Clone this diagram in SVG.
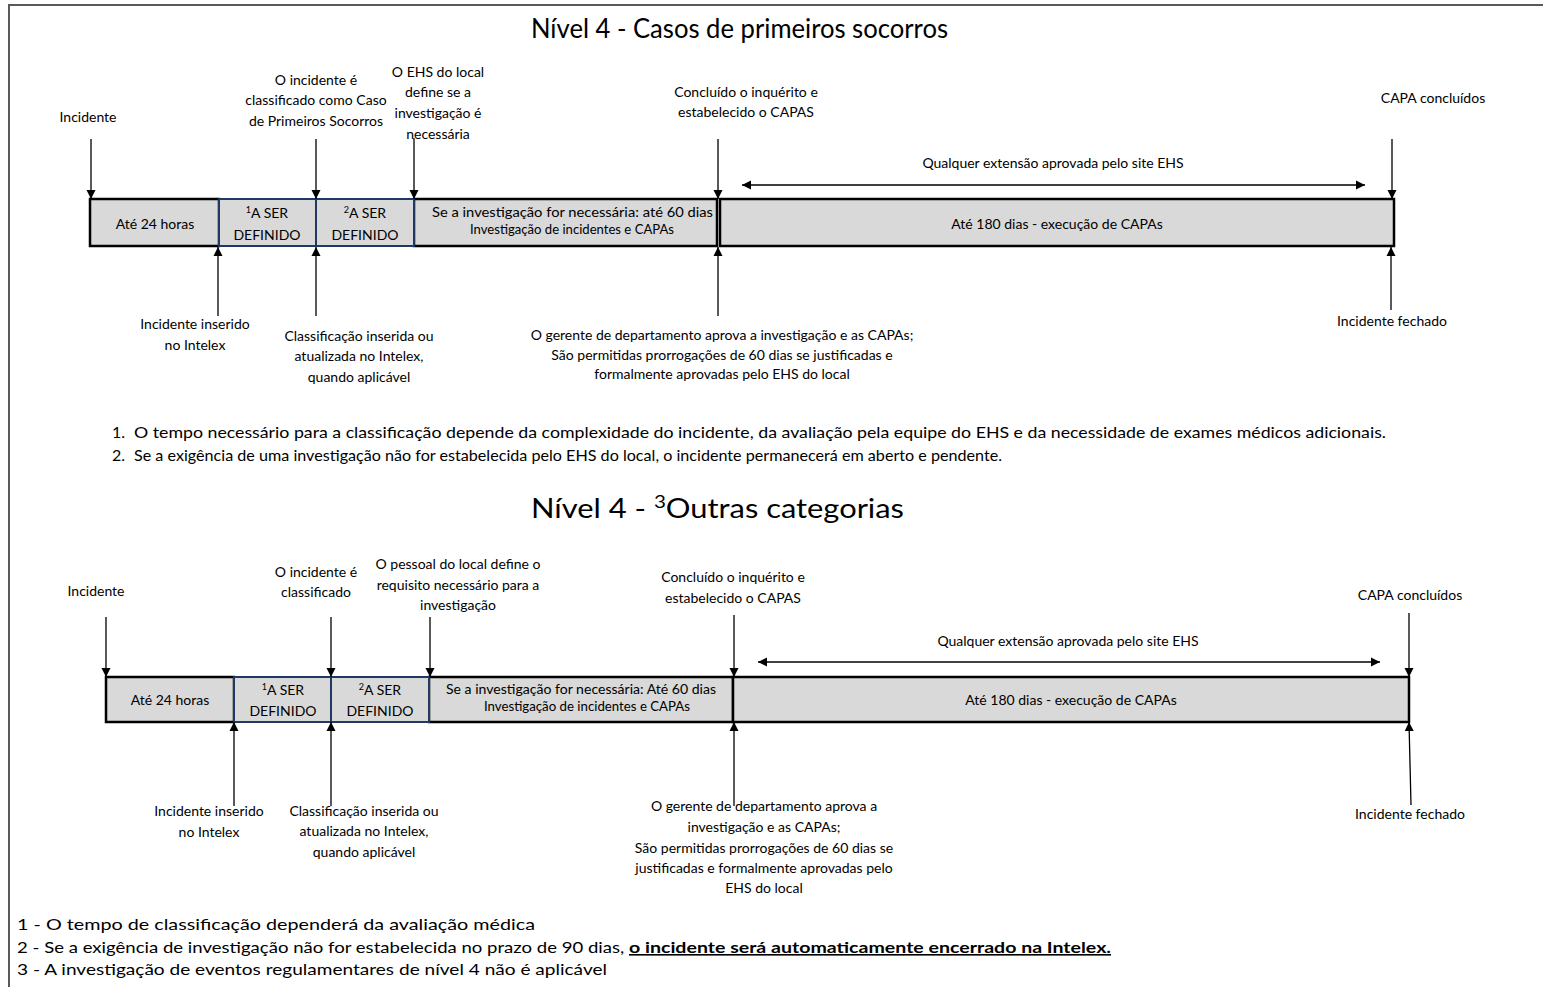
<svg xmlns="http://www.w3.org/2000/svg" width="1543" height="987" viewBox="0 0 1543 987">
<style>
text{font-family:Lato,"Liberation Sans",sans-serif;fill:#000;}
.t{font-size:14px;text-anchor:middle;}
.s{font-size:12.5px;}
.h{font-size:27px;}
.f{font-size:16px;}
.box{fill:#d9d9d9;stroke:#000;stroke-width:2.5;}
.nb{fill:#d9d9d9;stroke:#1f3864;stroke-width:2;}
.c line{stroke:#000;stroke-width:1.3;}
.frame{stroke:#595959;stroke-width:2;fill:none;}
</style>
<defs>
<marker id="ah" viewBox="0 0 10 10" refX="10" refY="5" markerWidth="9" markerHeight="10" markerUnits="userSpaceOnUse" orient="auto-start-reverse"><path d="M0,0 L10,5 L0,10 z" fill="#000"/></marker>
</defs>
<path class="frame" d="M9,987 V5 H1543"/>

<text class="h" x="531" y="38" textLength="417" lengthAdjust="spacingAndGlyphs">Nível 4 - Casos de primeiros socorros</text>

<g id="s1-box1"><rect class="box" x="90" y="199" width="129" height="47"/><text class="t" x="155" y="229">Até 24 horas</text></g>
<g id="s1-box4"><rect class="box" x="414" y="199" width="303" height="47"/><text class="s" x="432" y="217" textLength="281" lengthAdjust="spacingAndGlyphs">Se a investigação for necessária: até 60 dias</text><text class="s" x="470" y="234" textLength="204" lengthAdjust="spacingAndGlyphs">Investigação de incidentes e CAPAs</text></g>
<g id="s1-box5"><rect class="box" x="720" y="199" width="674" height="47"/><text class="t" x="1057" y="229">Até 180 dias - execução de CAPAs</text></g>
<g id="s1-box2"><rect class="nb" x="219" y="199" width="97" height="47"/><text class="t" x="267" y="218"><tspan font-size="9" dy="-5">1</tspan><tspan dy="5">A SER</tspan></text><text class="t" x="267" y="240">DEFINIDO</text></g>
<g id="s1-box3"><rect class="nb" x="316" y="199" width="98" height="47"/><text class="t" x="365" y="218"><tspan font-size="9" dy="-5">2</tspan><tspan dy="5">A SER</tspan></text><text class="t" x="365" y="240">DEFINIDO</text></g>

<g id="s1-lbl-incidente"><text class="t" x="88" y="122">Incidente</text></g>
<g id="s1-lbl-classificado"><text class="t" x="316" y="85">O incidente é</text><text class="t" x="316" y="105">classificado como Caso</text><text class="t" x="316" y="126">de Primeiros Socorros</text></g>
<g id="s1-lbl-ehs"><text class="t" x="438" y="77">O EHS do local</text><text class="t" x="438" y="97">define se a</text><text class="t" x="438" y="118">investigação é</text><text class="t" x="438" y="139">necessária</text></g>
<g id="s1-lbl-concluido"><text class="t" x="746" y="97">Concluído o inquérito e</text><text class="t" x="746" y="117">estabelecido o CAPAS</text></g>
<g id="s1-lbl-capa"><text class="t" x="1433" y="103">CAPA concluídos</text></g>
<g id="s1-lbl-ext"><text class="t" x="1053" y="168">Qualquer extensão aprovada pelo site EHS</text></g>
<g id="s1-lbl-inserido"><text class="t" x="195" y="329">Incidente inserido</text><text class="t" x="195" y="350">no Intelex</text></g>
<g id="s1-lbl-class-ins"><text class="t" x="359" y="341">Classificação inserida ou</text><text class="t" x="359" y="361">atualizada no Intelex,</text><text class="t" x="359" y="382">quando aplicável</text></g>
<g id="s1-lbl-gerente"><text class="t" x="722" y="340">O gerente de departamento aprova a investigação e as CAPAs;</text><text class="t" x="722" y="360">São permitidas prorrogações de 60 dias se justificadas e</text><text class="t" x="722" y="379">formalmente aprovadas pelo EHS do local</text></g>
<g id="s1-lbl-fechado"><text class="t" x="1392" y="326">Incidente fechado</text></g>

<g class="c" id="connectors-1">
<line x1="91" y1="139" x2="91" y2="199" marker-end="url(#ah)"/>
<line x1="316" y1="139" x2="316" y2="199" marker-end="url(#ah)"/>
<line x1="414" y1="138" x2="414" y2="199" marker-end="url(#ah)"/>
<line x1="718" y1="139" x2="718" y2="199" marker-end="url(#ah)"/>
<line x1="1392" y1="139" x2="1392" y2="199" marker-end="url(#ah)"/>
<line x1="218" y1="316" x2="218" y2="247" marker-end="url(#ah)"/>
<line x1="316" y1="316" x2="316" y2="247" marker-end="url(#ah)"/>
<line x1="718" y1="316" x2="718" y2="247" marker-end="url(#ah)"/>
<line x1="1391" y1="310" x2="1391" y2="247" marker-end="url(#ah)"/>
<line x1="742" y1="185" x2="1365" y2="185" marker-start="url(#ah)" marker-end="url(#ah)"/>
</g>

<g id="notes-1">
<text class="f" x="112" y="438">1.</text><text class="f" x="134" y="438" textLength="1252" lengthAdjust="spacingAndGlyphs">O tempo necessário para a classificação depende da complexidade do incidente, da avaliação pela equipe do EHS e da necessidade de exames médicos adicionais.</text>
<text class="f" x="112" y="461">2.</text><text class="f" x="134" y="461" textLength="868" lengthAdjust="spacingAndGlyphs">Se a exigência de uma investigação não for estabelecida pelo EHS do local, o incidente permanecerá em aberto e pendente.</text>
</g>

<text class="h" x="531" y="518" textLength="373" lengthAdjust="spacingAndGlyphs">Nível 4 - <tspan font-size="18" dy="-10">3</tspan><tspan dy="10">Outras categorias</tspan></text>

<g id="s2-box1"><rect class="box" x="106" y="677" width="128" height="45"/><text class="t" x="170" y="705">Até 24 horas</text></g>
<g id="s2-box4"><rect class="box" x="429" y="677" width="304" height="45"/><text class="s" x="446" y="694" textLength="270" lengthAdjust="spacingAndGlyphs">Se a investigação for necessária: Até 60 dias</text><text class="s" x="484" y="711" textLength="206" lengthAdjust="spacingAndGlyphs">Investigação de incidentes e CAPAs</text></g>
<g id="s2-box5"><rect class="box" x="733" y="677" width="676" height="45"/><text class="t" x="1071" y="705">Até 180 dias - execução de CAPAs</text></g>
<g id="s2-box2"><rect class="nb" x="234" y="677" width="97" height="45"/><text class="t" x="283" y="695"><tspan font-size="9" dy="-5">1</tspan><tspan dy="5">A SER</tspan></text><text class="t" x="283" y="716">DEFINIDO</text></g>
<g id="s2-box3"><rect class="nb" x="331" y="677" width="98" height="45"/><text class="t" x="380" y="695"><tspan font-size="9" dy="-5">2</tspan><tspan dy="5">A SER</tspan></text><text class="t" x="380" y="716">DEFINIDO</text></g>

<g id="s2-lbl-incidente"><text class="t" x="96" y="596">Incidente</text></g>
<g id="s2-lbl-classificado"><text class="t" x="316" y="577">O incidente é</text><text class="t" x="316" y="597">classificado</text></g>
<g id="s2-lbl-pessoal"><text class="t" x="458" y="569">O pessoal do local define o</text><text class="t" x="458" y="590">requisito necessário para a</text><text class="t" x="458" y="610">investigação</text></g>
<g id="s2-lbl-concluido"><text class="t" x="733" y="582">Concluído o inquérito e</text><text class="t" x="733" y="603">estabelecido o CAPAS</text></g>
<g id="s2-lbl-capa"><text class="t" x="1410" y="600">CAPA concluídos</text></g>
<g id="s2-lbl-ext"><text class="t" x="1068" y="646">Qualquer extensão aprovada pelo site EHS</text></g>
<g id="s2-lbl-inserido"><text class="t" x="209" y="816">Incidente inserido</text><text class="t" x="209" y="837">no Intelex</text></g>
<g id="s2-lbl-class-ins"><text class="t" x="364" y="816">Classificação inserida ou</text><text class="t" x="364" y="836">atualizada no Intelex,</text><text class="t" x="364" y="857">quando aplicável</text></g>
<g id="s2-lbl-gerente"><text class="t" x="764" y="811">O gerente de departamento aprova a</text><text class="t" x="764" y="832">investigação e as CAPAs;</text><text class="t" x="764" y="853">São permitidas prorrogações de 60 dias se</text><text class="t" x="764" y="873">justificadas e formalmente aprovadas pelo</text><text class="t" x="764" y="893">EHS do local</text></g>
<g id="s2-lbl-fechado"><text class="t" x="1410" y="819">Incidente fechado</text></g>

<g class="c" id="connectors-2">
<line x1="106" y1="617" x2="106" y2="677" marker-end="url(#ah)"/>
<line x1="331" y1="617" x2="331" y2="677" marker-end="url(#ah)"/>
<line x1="430" y1="617" x2="430" y2="677" marker-end="url(#ah)"/>
<line x1="734" y1="615" x2="734" y2="677" marker-end="url(#ah)"/>
<line x1="1409" y1="613" x2="1409" y2="677" marker-end="url(#ah)"/>
<line x1="234" y1="806" x2="234" y2="722" marker-end="url(#ah)"/>
<line x1="331" y1="806" x2="331" y2="722" marker-end="url(#ah)"/>
<line x1="734" y1="806" x2="734" y2="722" marker-end="url(#ah)"/>
<line x1="1411" y1="805" x2="1409" y2="722" marker-end="url(#ah)"/>
<line x1="758" y1="662" x2="1380" y2="662" marker-start="url(#ah)" marker-end="url(#ah)"/>
</g>

<g id="notes-2">
<text class="f" x="17" y="930" textLength="518" lengthAdjust="spacingAndGlyphs">1 - O tempo de classificação dependerá da avaliação médica</text>
<text class="f" x="17" y="953"><tspan textLength="612" lengthAdjust="spacingAndGlyphs">2 - Se a exigência de investigação não for estabelecida no prazo de 90 dias, </tspan><tspan font-weight="bold" text-decoration="underline" textLength="482" lengthAdjust="spacingAndGlyphs">o incidente será automaticamente encerrado na Intelex.</tspan></text>
<text class="f" x="17" y="975" textLength="590" lengthAdjust="spacingAndGlyphs">3 - A investigação de eventos regulamentares de nível 4 não é aplicável</text>
</g>
</svg>
